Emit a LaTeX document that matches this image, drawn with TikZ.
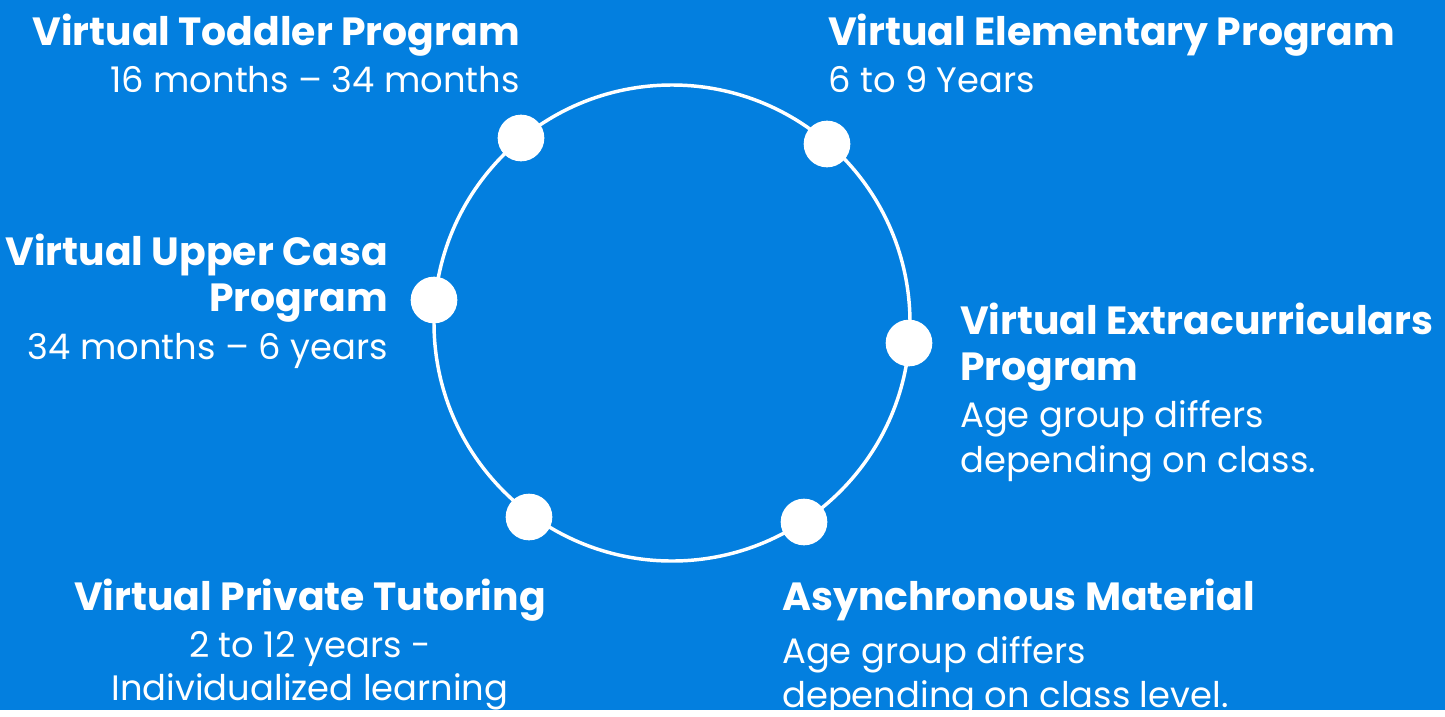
\documentclass[tikz,border=0pt]{standalone}
\usepackage{fontspec}
\setmainfont{Poppins}
\definecolor{bgblue}{RGB}{3,127,223}
\tikzset{
  dot/.style={circle,fill=white,inner sep=0pt,minimum size=35pt},
  head/.style={text=white,inner sep=0pt,font=\bfseries\fontsize{29.5}{35}\selectfont},
  sub/.style={text=white,inner sep=0pt,font=\fontsize{26.5}{35}\selectfont}
}
\begin{document}
\begin{tikzpicture}[x=0.75pt,y=-0.75pt]
  \fill[color=bgblue] (0,0) rectangle (1445,710);
  \draw[color=white,line width=2.6pt] (672,323) circle(238);
  \node[dot] (toddler) at (521,138) {};
  \node[dot] (elem) at (827,144) {};
  \node[dot] (casa) at (434,300) {};
  \node[dot] (extra) at (909,343) {};
  \node[dot] (tutor) at (529,517) {};
  \node[dot] (async) at (804,522) {};
  % top left
  \node[head,anchor=base east] (toddlerA) at (520,45) {Virtual Toddler Program};
  \node[sub,anchor=base east] (toddlerB) at (520,92) {16 months – 34 months};
  % top right
  \node[head,anchor=base west] (elemA) at (828,45) {Virtual Elementary Program};
  \node[sub,anchor=base west] (elemB) at (828,92) {6 to 9 Years};
  % left
  \node[head,anchor=base east] (casaA) at (388,265) {Virtual Upper Casa};
  \node[head,anchor=base east] (casaB) at (388,311) {Program};
  \node[sub,anchor=base east] (casaC) at (388,359) {34 months – 6 years};
  % right
  \node[head,anchor=base west] (extraA) at (960,334) {Virtual Extracurriculars};
  \node[head,anchor=base west] (extraB) at (960,380) {Program};
  \node[sub,anchor=base west] (extraC) at (960,427) {Age group differs};
  \node[sub,anchor=base west] (extraD) at (960,472) {depending on class.};
  % bottom left
  \node[head,anchor=base] (tutorA) at (310,610) {Virtual Private Tutoring};
  \node[sub,anchor=base] (tutorB) at (310,657) {2 to 12 years -};
  \node[sub,anchor=base] (tutorC) at (310,700) {Individualized learning};
  % bottom right
  \node[head,anchor=base west] (asyncA) at (782,610) {Asynchronous Material};
  \node[sub,anchor=base west] (asyncB) at (782,663) {Age group differs};
  \node[sub,anchor=base west] (asyncC) at (782,707) {depending on class level.};
\end{tikzpicture}
\end{document}
